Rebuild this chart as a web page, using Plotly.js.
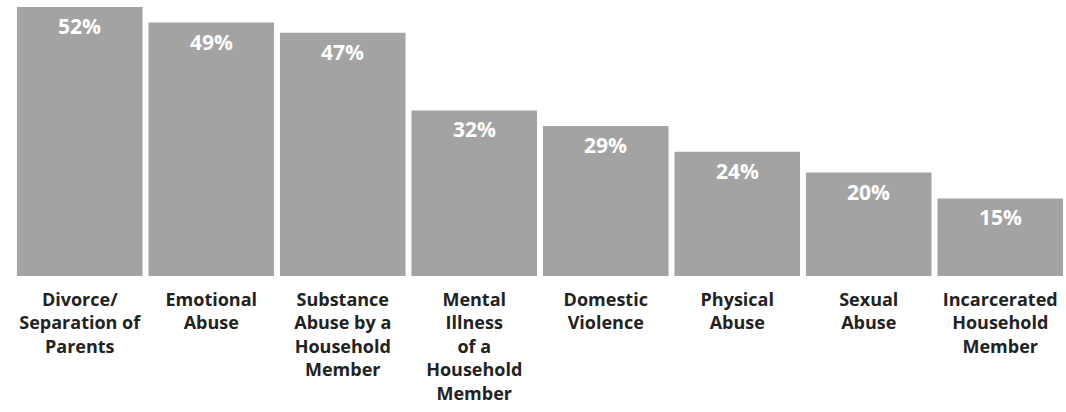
<!DOCTYPE html>
<html>
<head>
<meta charset="utf-8">
<script src="https://cdn.plot.ly/plotly-3.0.1.min.js"></script>
<style>html,body{margin:0;padding:0;background:#fff;}#chart{width:1066px;height:412px;}</style>
</head>
<body>
<div id="chart"></div>
<script>
const categories = [
  "Divorce/<br>Separation of<br>Parents",
  "Emotional<br>Abuse",
  "Substance<br>Abuse by a<br>Household<br>Member",
  "Mental<br>Illness<br>of a<br>Household<br>Member",
  "Domestic<br>Violence",
  "Physical<br>Abuse",
  "Sexual<br>Abuse",
  "Incarcerated<br>Household<br>Member"
];
const values = [52, 49, 47, 32, 29, 24, 20, 15];
const valueLabels = values.map(v => v + "%");

const annotations = values.map((v, i) => ({
  x: categories[i], y: v, xref: 'x', yref: 'y',
  text: valueLabels[i], showarrow: false, yanchor: 'middle', yshift: -19,
  font: {family: '"Open Sans", sans-serif', size: 21, color: '#ffffff', weight: 'bold'}
}));

Plotly.newPlot('chart', [{
  type: 'bar', x: categories, y: values,
  marker: {color: '#a3a3a3', line: {width: 0}},
  hoverinfo: 'none'
}], {
  width: 1066, height: 412,
  margin: {l: 14, r: 0, t: 7, b: 136},
  bargap: 0.045,
  paper_bgcolor: '#ffffff', plot_bgcolor: '#ffffff',
  showlegend: false,
  xaxis: {
    tickfont: {family: '"Open Sans", sans-serif', size: 18, color: '#222222', weight: 'bold'},
    ticklabelstandoff: 11,
    showline: false, ticks: '', showgrid: false, zeroline: false, tickangle: 0, automargin: false
  },
  yaxis: {range: [0, 52], visible: false, showgrid: false, zeroline: false, fixedrange: true},
  annotations: annotations
}, {staticPlot: true, displayModeBar: false});
</script>
</body>
</html>
